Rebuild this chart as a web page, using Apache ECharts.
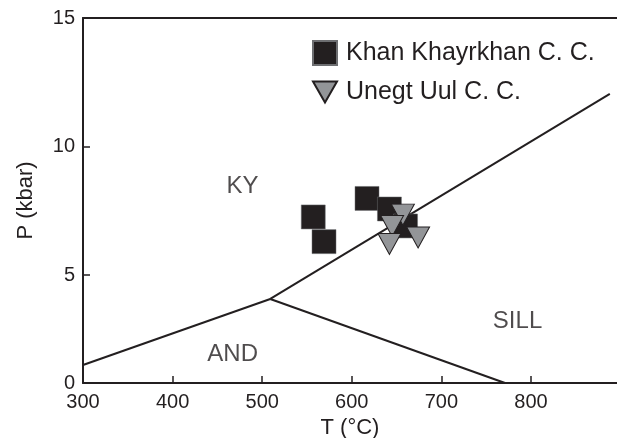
<!DOCTYPE html>
<html>
<head>
<meta charset="utf-8">
<script src="https://cdn.jsdelivr.net/npm/echarts@6/dist/echarts.min.js"></script>
<style>
html,body{margin:0;padding:0;background:#fff;}
#chart{width:617px;height:438px;}
</style>
</head>
<body>
<div id="chart"></div>
<script>
// ---- data ----
const xMin = 300, xMax = 896, xInterval = 100;
const yMin = 0.8, yMax = 15;
const yTickValues = [0.8, 5, 10, 15];
const yTickLabels = ['0', '5', '10', '15'];
const xTickValues = [400, 500, 600, 700, 800];

const seriesNames = ['Khan Khayrkhan C. C.', 'Unegt Uul C. C.'];
const khanT = [557, 569, 617, 642, 660];
const khanP = [7.26, 6.30, 7.98, 7.57, 6.91];
const unegtT = [657, 645, 642, 674];
const unegtP = [7.35, 6.91, 6.21, 6.46];

const triplePoint = [509, 4.07];
const kyAndEnd = [300, 1.50];
const kySillEnd = [888, 12.05];
const andSillEnd = [771, 0.8];

const regionNames = ['KY', 'AND', 'SILL'];
const regionT = [478, 467, 785];
const regionP = [8.55, 2.04, 3.33];

// ---- chart ----
const ink = '#231f20';
const font = 'Liberation Sans, Arial, sans-serif';
const triPath = 'path://M0,0L24,0L12,21Z';

const chart = echarts.init(document.getElementById('chart'));

const zip = (a, b) => a.map((v, i) => [v, b[i]]);
const boundary = (pts) => ({
  type: 'line', data: pts, symbol: 'none', silent: true, z: 1,
  lineStyle: {color: ink, width: 2}, animation: false
});

chart.setOption({
  backgroundColor: '#fff',
  animation: false,
  textStyle: {fontFamily: font, color: ink},
  grid: {left: 83, right: 0, top: 18, bottom: 55, containLabel: false, outerBoundsMode: 'none'},
  legend: {
    orient: 'vertical', left: 307, top: 35, itemGap: 13,
    itemWidth: 24, itemHeight: 24,
    textStyle: {fontSize: 25, color: ink, fontFamily: font, padding: [0, 0, 0, 4], lineHeight: 26},
    data: [{name: seriesNames[0], icon: 'rect'}, {name: seriesNames[1], icon: triPath}]
  },
  xAxis: [{
    type: 'value', min: xMin, max: xMax, interval: xInterval,
    name: 'T (°C)', nameLocation: 'middle', nameGap: 34,
    nameTextStyle: {fontSize: 22, color: ink, fontFamily: font},
    splitLine: {show: false},
    axisLine: {show: true, lineStyle: {color: ink, width: 2}},
    axisTick: {show: true, inside: true, length: 7, customValues: xTickValues, lineStyle: {color: ink, width: 1.5}},
    axisLabel: {fontSize: 20, color: ink, fontFamily: font, margin: 9, showMaxLabel: false}
  }, {
    type: 'value', position: 'top', min: xMin, max: xMax,
    splitLine: {show: false}, axisTick: {show: false}, axisLabel: {show: false},
    axisLine: {show: true, lineStyle: {color: ink, width: 2}}
  }],
  yAxis: {
    type: 'value', min: yMin, max: yMax,
    name: 'P (kbar)', nameLocation: 'middle', nameGap: 46, nameRotate: 90,
    nameTextStyle: {fontSize: 22, color: ink, fontFamily: font},
    splitLine: {show: false},
    axisLine: {show: true, lineStyle: {color: ink, width: 2}},
    axisTick: {show: true, inside: true, length: 7, customValues: [5, 10], lineStyle: {color: ink, width: 1.5}},
    axisLabel: {
      fontSize: 20, color: ink, fontFamily: font, margin: 8,
      customValues: yTickValues,
      formatter: (v) => {
        const i = yTickValues.findIndex(t => Math.abs(t - v) < 1e-6);
        return i >= 0 ? yTickLabels[i] : '';
      }
    }
  },
  series: [
    boundary([kyAndEnd, triplePoint]),
    boundary([triplePoint, kySillEnd]),
    boundary([triplePoint, andSillEnd]),
    {
      name: seriesNames[0], type: 'scatter', symbol: 'rect', symbolSize: 24, z: 3,
      itemStyle: {color: ink, borderColor: '#6d6e71', borderWidth: 0.5, opacity: 1},
      data: zip(khanT, khanP)
    },
    {
      name: seriesNames[1], type: 'scatter', symbol: triPath, symbolSize: [23, 21], z: 4,
      itemStyle: {color: '#939598', borderColor: ink, borderWidth: 1, opacity: 1},
      data: zip(unegtT, unegtP)
    },
    {
      type: 'scatter', symbolSize: 0, silent: true, z: 5,
      label: {show: true, position: 'inside', offset: [0, 3], formatter: (p) => p.name,
        fontSize: 24, color: ink, fontFamily: font},
      data: regionNames.map((n, i) => ({name: n, value: [regionT[i], regionP[i]]}))
    }
  ]
});
</script>
</body>
</html>
